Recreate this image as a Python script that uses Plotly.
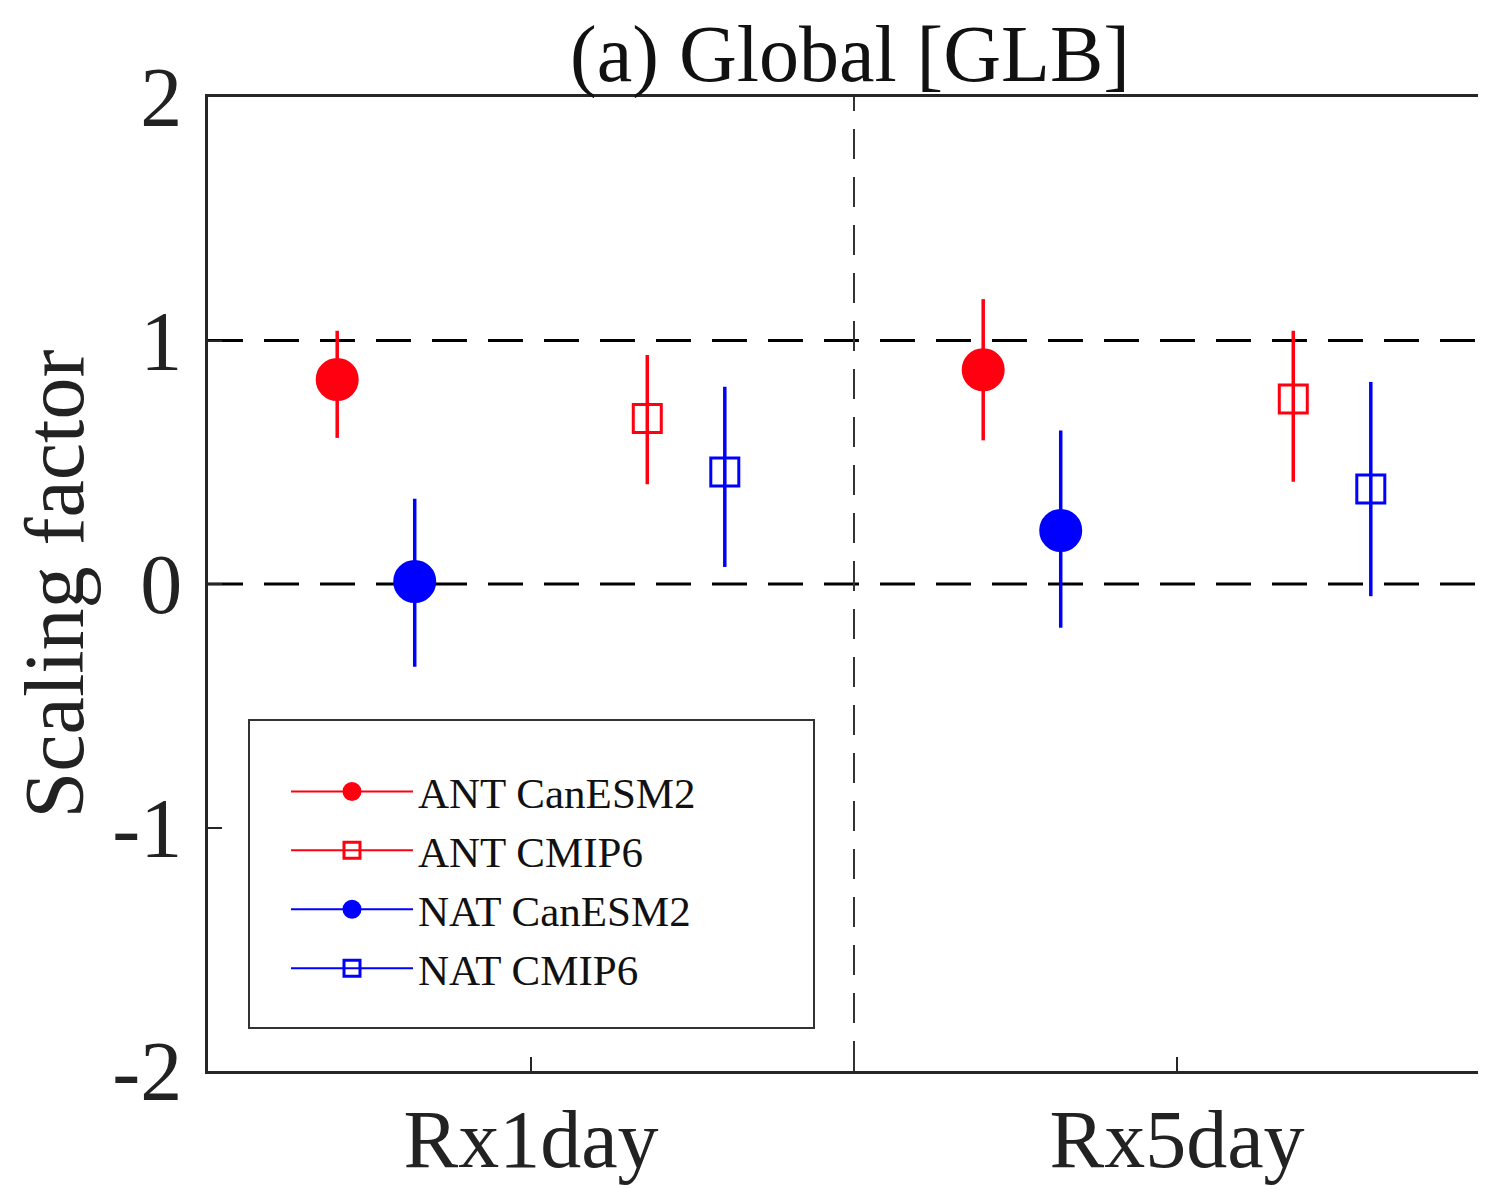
import plotly.graph_objects as go

# ---- data ----
categories = ["Rx1day", "Rx5day"]
series_names = ["ANT CanESM2", "ANT CMIP6", "NAT CanESM2", "NAT CMIP6"]

ant_canesm2 = [0.84, 0.88]
ant_canesm2_hi = [1.04, 1.17]
ant_canesm2_lo = [0.60, 0.59]

ant_cmip6 = [0.68, 0.76]
ant_cmip6_hi = [0.94, 1.04]
ant_cmip6_lo = [0.41, 0.42]

nat_canesm2 = [0.01, 0.22]
nat_canesm2_hi = [0.35, 0.63]
nat_canesm2_lo = [-0.34, -0.18]

nat_cmip6 = [0.46, 0.39]
nat_cmip6_hi = [0.81, 0.83]
nat_cmip6_lo = [0.07, -0.05]

y_ticks = [-2, -1, 0, 1, 2]

# ---- styling ----
FONT = "Liberation Serif, Times New Roman, serif"
AX = "#262626"
series = [
    (series_names[0], ant_canesm2, ant_canesm2_hi, ant_canesm2_lo, -0.30, "#ff0010", "circle", 40),
    (series_names[1], ant_cmip6, ant_cmip6_hi, ant_cmip6_lo, 0.18, "#ff0010", "square-open", 28),
    (series_names[2], nat_canesm2, nat_canesm2_hi, nat_canesm2_lo, -0.18, "#0000ff", "circle", 40),
    (series_names[3], nat_cmip6, nat_cmip6_hi, nat_cmip6_lo, 0.30, "#0000ff", "square-open", 28),
]

fig = go.Figure()
base = list(range(1, len(categories) + 1))
for name, vals, hi, lo, off, col, sym, size in series:
    xs, ys, ep, em = [], [], [], []
    for i, (b, v, h, l) in enumerate(zip(base, vals, hi, lo)):
        if i > 0:
            xs.append(None); ys.append(None); ep.append(None); em.append(None)
        xs.append(b + off); ys.append(v); ep.append(h - v); em.append(v - l)
    fig.add_trace(go.Scatter(
        x=xs, y=ys, name=name, mode="lines+markers", connectgaps=False,
        line=dict(color=col, width=2),
        marker=dict(symbol=sym, size=size, color=col, line=dict(color=col, width=3)),
        error_y=dict(type="data", symmetric=False, array=ep, arrayminus=em,
                     color=col, thickness=3.5, width=0),
    ))

# dashed reference lines
for yv in [0, 1]:
    fig.add_shape(type="line", xref="paper", x0=0, x1=1, yref="y", y0=yv, y1=yv,
                  line=dict(color="black", width=3, dash="35px,21px"), layer="below")
fig.add_shape(type="line", xref="x", x0=1.5, x1=1.5, yref="paper", y0=0, y1=1,
              line=dict(color="#333333", width=2, dash="30px,18px"), layer="below")

PW, PH = 1278, 974  # plot area size in px
# legend box
fig.add_shape(type="rect", xref="paper", yref="paper",
              x0=(249 - 208) / PW, x1=(814 - 208) / PW,
              y0=(1071 - 1028) / PH, y1=(1071 - 720) / PH,
              line=dict(color="#333333", width=2), fillcolor="white", layer="above")

x_right = 0.5 + PW / 646
fig.update_layout(
    width=1478, height=1181,
    margin=dict(l=200, r=0, t=89, b=118),
    paper_bgcolor="white", plot_bgcolor="white",
    font=dict(family=FONT, color="#262626", size=84),
    title=dict(text="(a) Global [GLB]", x=842 / 1478, xanchor="center",
               y=1 - 45 / 1181, yanchor="middle",
               font=dict(family=FONT, size=80, color="#111111")),
    showlegend=True,
    legend=dict(x=78 / PW, y=(1071 - 757) / PH, xanchor="left", yanchor="top",
                bgcolor="rgba(0,0,0,0)", borderwidth=0,
                font=dict(family=FONT, size=43, color="#111111"),
                itemwidth=122, tracegroupgap=0),
    xaxis=dict(range=[0.5, x_right], tickvals=base, ticktext=categories,
               showline=True, linecolor=AX, linewidth=3, mirror=True,
               ticks="inside", ticklen=14, tickwidth=2, tickcolor=AX,
               showgrid=False, zeroline=False, ticklabelstandoff=-5, automargin=False,
               tickfont=dict(family=FONT, size=82, color="#222222")),
    yaxis=dict(range=[-2, 2], tickvals=y_ticks, ticktext=[str(t) for t in y_ticks],
               showline=True, linecolor=AX, linewidth=3, mirror=False,
               ticks="inside", ticklen=14, tickwidth=2, tickcolor=AX,
               showgrid=False, zeroline=False, ticklabelstandoff=6, automargin=False,
               tickfont=dict(family=FONT, size=84, color="#222222"),
               title=dict(text="Scaling factor", standoff=4,
                          font=dict(family=FONT, size=84, color="#222222"))),
)

fig.write_html("out.html")
